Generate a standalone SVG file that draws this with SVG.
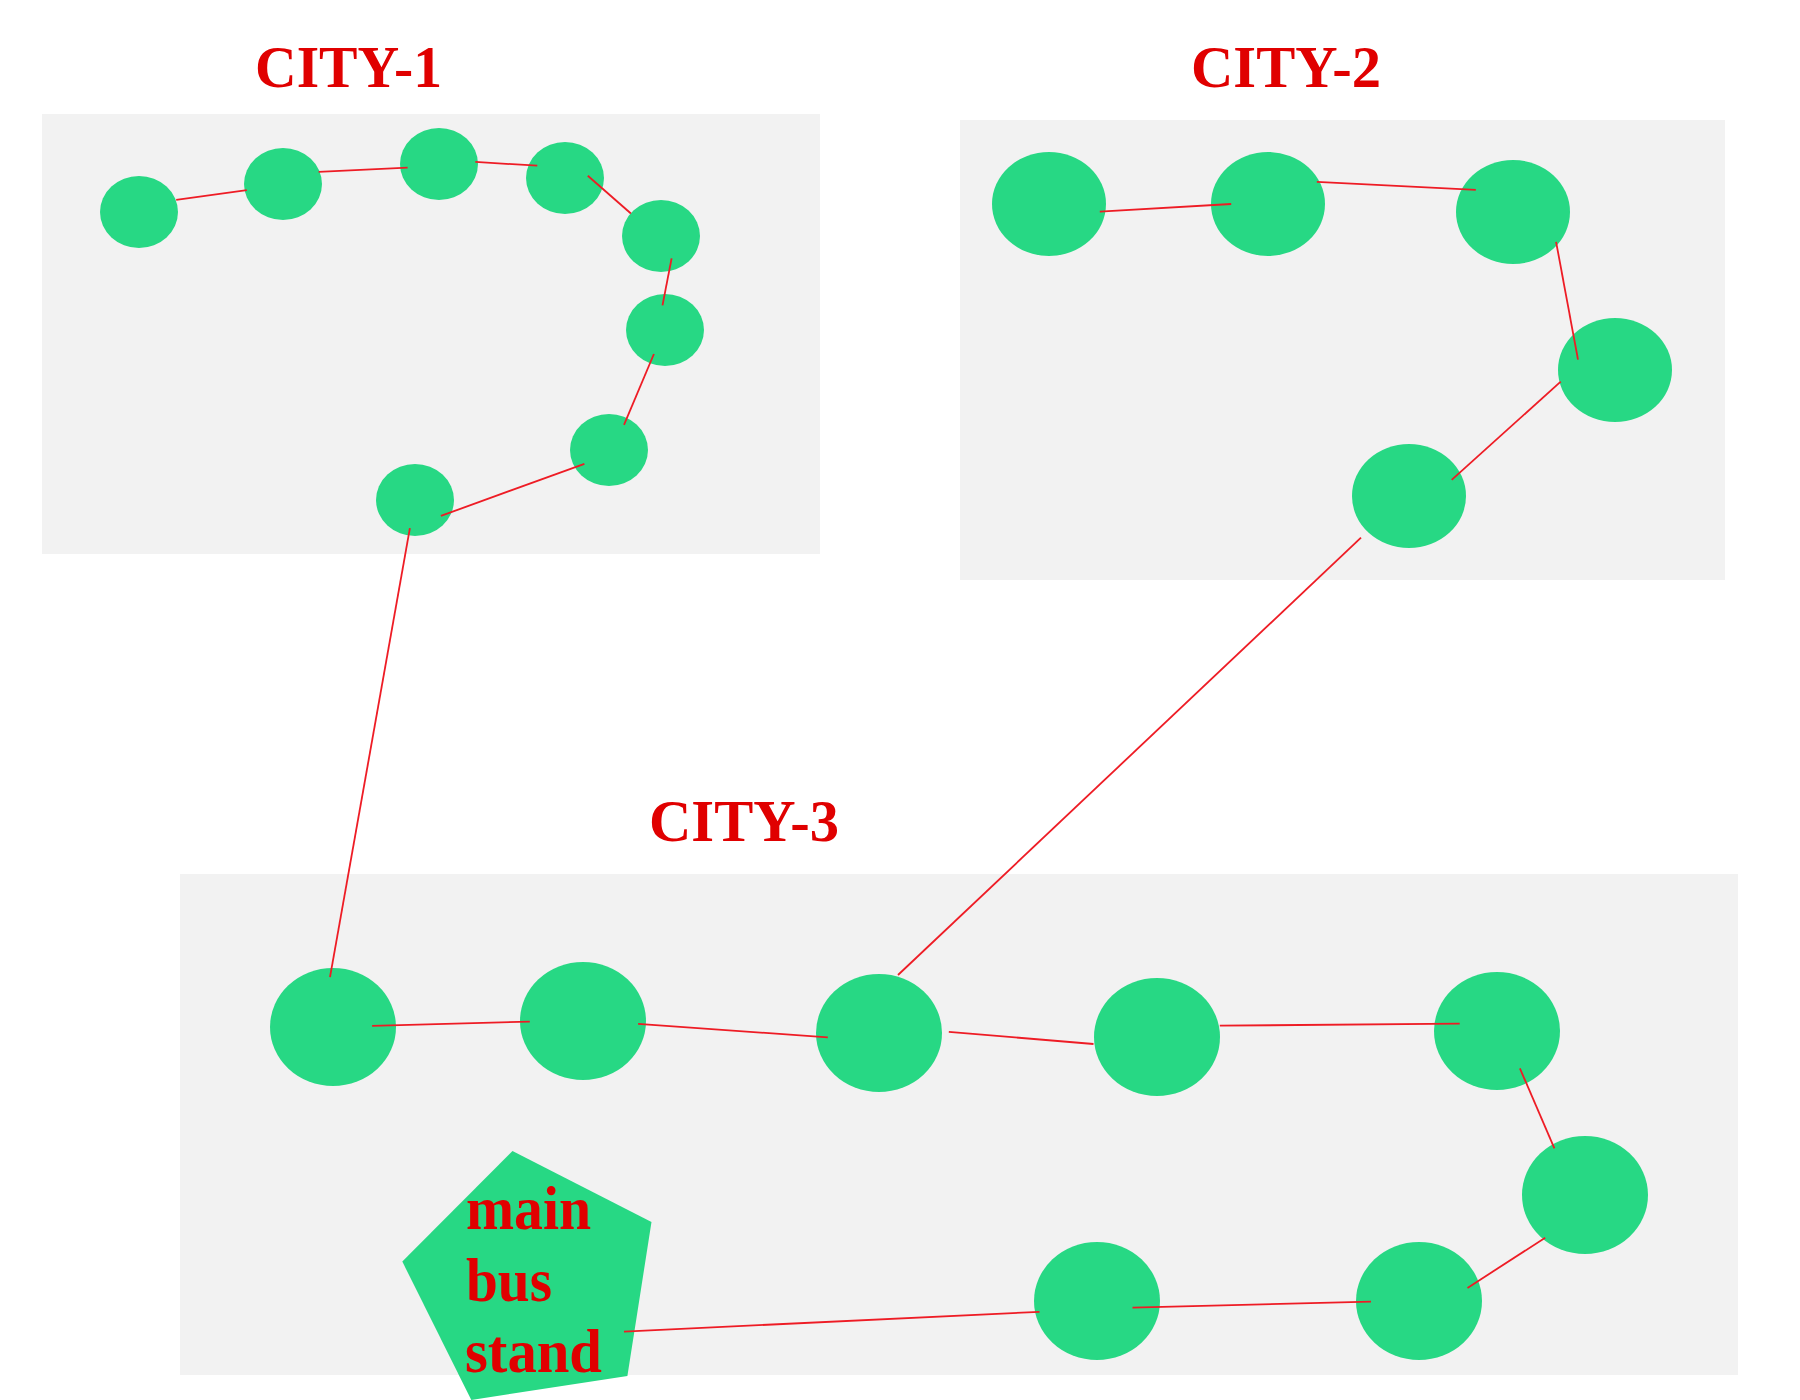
<svg xmlns="http://www.w3.org/2000/svg" width="1800" height="1400" viewBox="0 0 1800 1400">
<style>
.zone{fill:#f2f2f2}
.n{fill:#27d884}
.lbl{font-family:"Liberation Serif","Times New Roman",serif;font-weight:bold;fill:#e00000}
.t{font-size:60px}
.p{font-size:62px}
.e{stroke:#ee1c25;stroke-width:1.8;fill:none}
</style>
<rect width="1800" height="1400" fill="#ffffff"/>
<g id="zones">
<rect class="zone" x="42" y="114" width="778" height="440"/>
<rect class="zone" x="960" y="120" width="765" height="460"/>
<rect class="zone" x="180" y="874" width="1558" height="501"/>
</g>
<g id="titles">
<text class="lbl t" x="255" y="87" textLength="187" lengthAdjust="spacingAndGlyphs">CITY-1</text>
<text class="lbl t" x="1191" y="87" textLength="190" lengthAdjust="spacingAndGlyphs">CITY-2</text>
<text class="lbl t" x="649" y="841" textLength="190" lengthAdjust="spacingAndGlyphs">CITY-3</text>
</g>
<g id="city1-n1"><ellipse class="n" cx="139" cy="212" rx="39" ry="36"/></g>
<g id="city1-n2"><ellipse class="n" cx="283" cy="184" rx="39" ry="36"/></g>
<g id="city1-n3"><ellipse class="n" cx="439" cy="164" rx="39" ry="36"/></g>
<g id="city1-n4"><ellipse class="n" cx="565" cy="178" rx="39" ry="36"/></g>
<g id="city1-n5"><ellipse class="n" cx="661" cy="236" rx="39" ry="36"/></g>
<g id="city1-n6"><ellipse class="n" cx="665" cy="330" rx="39" ry="36"/></g>
<g id="city1-n7"><ellipse class="n" cx="609" cy="450" rx="39" ry="36"/></g>
<g id="city1-n8"><ellipse class="n" cx="415" cy="500" rx="39" ry="36"/></g>
<g id="city2-n1"><ellipse class="n" cx="1049" cy="204" rx="57" ry="52"/></g>
<g id="city2-n2"><ellipse class="n" cx="1268" cy="204" rx="57" ry="52"/></g>
<g id="city2-n3"><ellipse class="n" cx="1513" cy="212" rx="57" ry="52"/></g>
<g id="city2-n4"><ellipse class="n" cx="1615" cy="370" rx="57" ry="52"/></g>
<g id="city2-n5"><ellipse class="n" cx="1409" cy="496" rx="57" ry="52"/></g>
<g id="city3-n1"><ellipse class="n" cx="333" cy="1027" rx="63" ry="59"/></g>
<g id="city3-n2"><ellipse class="n" cx="583" cy="1021" rx="63" ry="59"/></g>
<g id="city3-n3"><ellipse class="n" cx="879" cy="1033" rx="63" ry="59"/></g>
<g id="city3-n4"><ellipse class="n" cx="1157" cy="1037" rx="63" ry="59"/></g>
<g id="city3-n5"><ellipse class="n" cx="1497" cy="1031" rx="63" ry="59"/></g>
<g id="city3-n6"><ellipse class="n" cx="1585" cy="1195" rx="63" ry="59"/></g>
<g id="city3-n7"><ellipse class="n" cx="1419" cy="1301" rx="63" ry="59"/></g>
<g id="city3-n8"><ellipse class="n" cx="1097" cy="1301" rx="63" ry="59"/></g>
<g id="main-bus-stand">
<polygon class="n" points="512.5,1151 651.5,1222 627.4,1376 471.3,1400 402.3,1261.5"/>
<text class="lbl p" x="466" y="1229" textLength="125" lengthAdjust="spacingAndGlyphs">main</text>
<text class="lbl p" x="466" y="1301" textLength="86" lengthAdjust="spacingAndGlyphs">bus</text>
<text class="lbl p" x="465" y="1372" textLength="137" lengthAdjust="spacingAndGlyphs">stand</text>
</g>
<g id="connectors">
<line class="e" x1="176.2" y1="199.8" x2="246.8" y2="190.2"/>
<line class="e" x1="318.6" y1="171.8" x2="407.6" y2="167.6"/>
<line class="e" x1="475.3" y1="161.9" x2="537.3" y2="165.7"/>
<line class="e" x1="587.8" y1="175.7" x2="630.9" y2="213.5"/>
<line class="e" x1="671.6" y1="258.3" x2="662.5" y2="305.4"/>
<line class="e" x1="653.9" y1="354" x2="624" y2="424.8"/>
<line class="e" x1="584.4" y1="463.8" x2="440.9" y2="515.9"/>
<line class="e" x1="409.9" y1="528.1" x2="330" y2="977.2"/>
<line class="e" x1="1099.8" y1="211.6" x2="1231.2" y2="204"/>
<line class="e" x1="1316.8" y1="181.8" x2="1475.8" y2="189.8"/>
<line class="e" x1="1556.1" y1="241.9" x2="1578" y2="359.7"/>
<line class="e" x1="1560.7" y1="381.6" x2="1451.7" y2="479.9"/>
<line class="e" x1="1361" y1="537.7" x2="898" y2="975"/>
<line class="e" x1="372.1" y1="1025.8" x2="529.8" y2="1021.6"/>
<line class="e" x1="638.1" y1="1023.9" x2="827.8" y2="1037.3"/>
<line class="e" x1="948.8" y1="1031.9" x2="1093.5" y2="1044"/>
<line class="e" x1="1219.8" y1="1025.7" x2="1459.7" y2="1023.6"/>
<line class="e" x1="1519.9" y1="1068.3" x2="1554.4" y2="1148.3"/>
<line class="e" x1="1545.2" y1="1237.8" x2="1467.5" y2="1287.9"/>
<line class="e" x1="1371" y1="1301.7" x2="1132.5" y2="1307.6"/>
<line class="e" x1="1039.5" y1="1311.8" x2="624" y2="1331.6"/>
</g>
</svg>
